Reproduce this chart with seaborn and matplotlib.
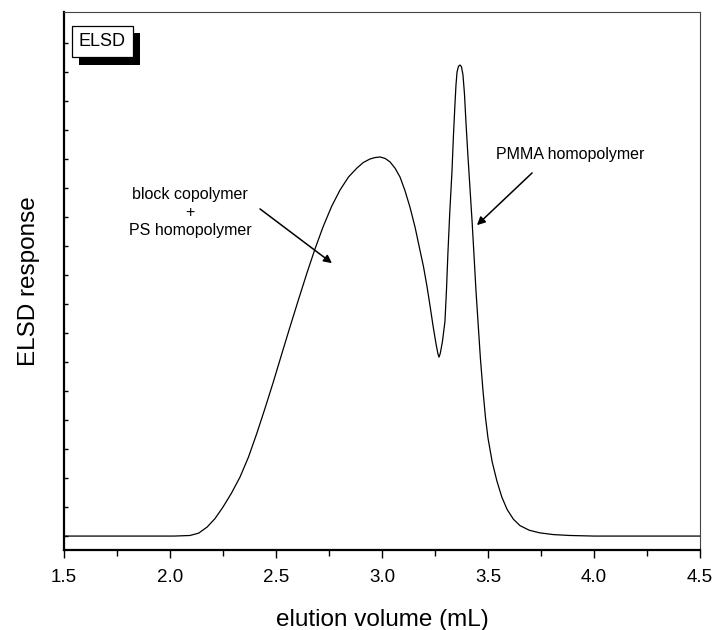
import numpy as np
import pandas as pd
import seaborn as sns
import matplotlib.pyplot as plt
import matplotlib.patheffects as pe

# elution volume (mL) and ELSD response (arbitrary units)
elution_volume = [1.50, 1.75, 1.90, 2.02, 2.094, 2.135, 2.175, 2.212, 2.250, 2.290,
                  2.330, 2.370, 2.410, 2.448, 2.486, 2.526, 2.566, 2.606, 2.646, 2.684,
                  2.722, 2.762, 2.802, 2.842, 2.882, 2.912, 2.943, 2.967, 2.991, 3.015,
                  3.038, 3.062, 3.085, 3.108, 3.132, 3.156, 3.179, 3.196, 3.212, 3.227,
                  3.241, 3.255, 3.264, 3.269, 3.275, 3.285, 3.297, 3.304, 3.311, 3.320,
                  3.330, 3.337, 3.344, 3.349, 3.354, 3.361, 3.368, 3.375, 3.382, 3.389,
                  3.396, 3.405, 3.415, 3.425, 3.434, 3.443, 3.453, 3.464, 3.476, 3.488,
                  3.500, 3.520, 3.542, 3.565, 3.590, 3.620, 3.651, 3.695, 3.745, 3.810,
                  3.887, 4.000, 4.123, 4.300, 4.50]
elsd_response = [0.0, 0.0, 0.0, 0.0, 0.02, 0.10, 0.31, 0.60, 1.00, 1.48,
                 2.03, 2.72, 3.55, 4.40, 5.28, 6.25, 7.21, 8.15, 9.07, 9.90,
                 10.66, 11.36, 11.93, 12.38, 12.69, 12.88, 13.00, 13.05, 13.07, 13.02,
                 12.90, 12.68, 12.38, 11.92, 11.34, 10.65, 9.86, 9.28, 8.62, 7.92,
                 7.24, 6.62, 6.28, 6.17, 6.30, 6.70, 7.40, 8.45, 9.76, 11.20,
                 12.55, 13.80, 14.86, 15.55, 16.00, 16.20, 16.24, 16.18, 15.90, 15.25,
                 14.28, 13.15, 12.00, 10.85, 9.69, 8.50, 7.38, 6.15, 5.05, 4.10,
                 3.38, 2.55, 1.90, 1.35, 0.92, 0.58, 0.36, 0.20, 0.11, 0.05,
                 0.02, 0.0, 0.0, 0.0, 0.0]

df = pd.DataFrame({"volume": elution_volume, "response": elsd_response})

sns.set_style("ticks")
plt.rcParams['font.family'] = ['Liberation Sans', 'DejaVu Sans']
plt.rcParams['text.color'] = 'black'
plt.rcParams['axes.labelcolor'] = 'black'
plt.rcParams['xtick.color'] = 'black'
plt.rcParams['ytick.color'] = 'black'

fig = plt.figure(figsize=(7.15, 6.3), dpi=100)
ax = fig.add_axes([0.0895, 0.127, 0.8895, 0.854])

sns.lineplot(data=df, x="volume", y="response", color="black", linewidth=0.9, ax=ax)

ax.set_xlim(1.5, 4.5)
ax.set_ylim(-0.48, 18.07)
ax.set_xticks(np.arange(1.5, 4.51, 0.5))
ax.set_xticks(np.arange(1.75, 4.5, 0.5), minor=True)
ax.set_xticklabels(["1.5", "2.0", "2.5", "3.0", "3.5", "4.0", "4.5"])
ax.set_yticks(np.arange(0, 18, 1))
ax.set_yticklabels([])

ax.tick_params(axis="x", which="major", direction="out", length=6, width=1,
               labelsize=13.5, pad=8)
ax.tick_params(axis="x", which="minor", direction="out", length=4.5, width=1)
ax.tick_params(axis="y", which="major", direction="in", length=3, width=1)

for side in ["left", "bottom"]:
    ax.spines[side].set_linewidth(1.6)
    ax.spines[side].set_color("black")
for side in ["top", "right"]:
    ax.spines[side].set_visible(True)
    ax.spines[side].set_linewidth(0.8)
    ax.spines[side].set_color("#444444")

ax.set_xlabel("elution volume (mL)", fontsize=17.5, labelpad=16)
ax.set_ylabel("ELSD response", fontsize=17.5, labelpad=14)

# annotations: arrows and labels drawn separately
arrow = dict(arrowstyle="-|>", color="black", lw=1.1, mutation_scale=12,
             shrinkA=0, shrinkB=0)
ax.annotate("", xy=(2.764, 9.41), xytext=(2.4245, 11.28), arrowprops=arrow)
ax.annotate("", xy=(3.448, 10.72), xytext=(3.708, 12.52), arrowprops=arrow)
ax.text(2.094, 11.14, "block copolymer\n+\nPS homopolymer", ha="center", va="center",
        fontsize=11.5, linespacing=1.25)
ax.text(3.887, 13.14, "PMMA homopolymer", ha="center", va="center", fontsize=11.5)

t = ax.text(0.0605, 0.945, "ELSD", transform=ax.transAxes, ha="center", va="center",
            fontsize=13,
            bbox=dict(boxstyle="square,pad=0.4", facecolor="white",
                      edgecolor="black", linewidth=0.9))
t.get_bbox_patch().set_path_effects([
    pe.SimplePatchShadow(offset=(5, -5.5), shadow_rgbFace="black", alpha=1.0),
    pe.Normal()])

plt.savefig("out.png", dpi=100)
